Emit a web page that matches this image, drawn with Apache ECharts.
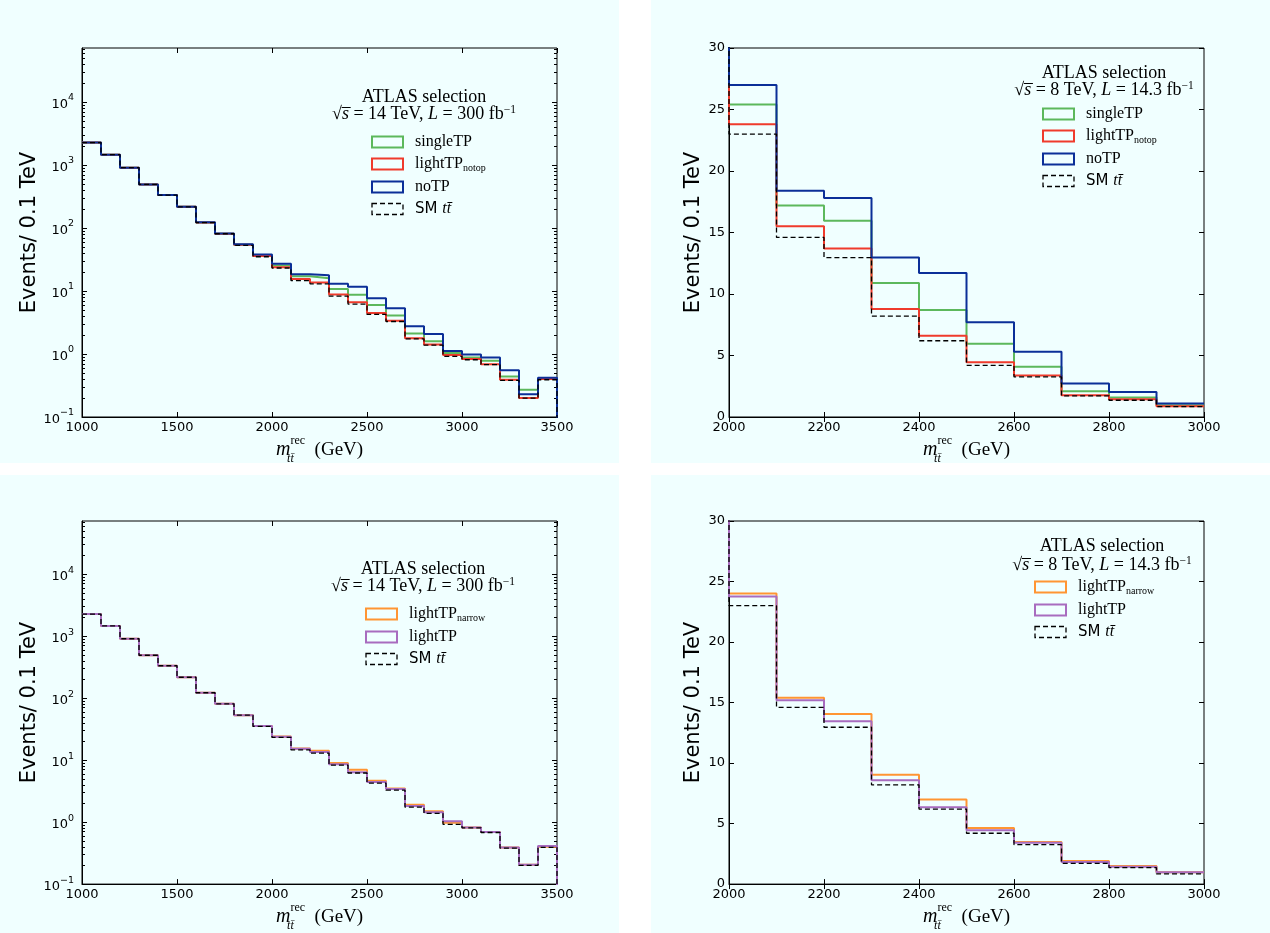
<!DOCTYPE html>
<html><head><meta charset="utf-8">
<script src="https://cdn.jsdelivr.net/npm/echarts@6/dist/echarts.min.js"></script>
<style>html,body{margin:0;padding:0;background:#fff}#c{width:1270px;height:933px}</style>
</head><body><div id="c"></div>
<script>
// ---------------- data ----------------
const BIN_LO_14 = [1000,1100,1200,1300,1400,1500,1600,1700,1800,1900,2000,2100,2200,2300,2400,2500,2600,2700,2800,2900,3000,3100,3200,3300,3400];
const BIN_HI_14 = 3500;
const SM_14            = [2270,1460,907,492,333,217,122,81,53,35,23.2,14.6,13.0,8.3,6.2,4.25,3.28,1.74,1.38,0.92,0.81,0.68,0.38,0.20,0.39];
const SINGLETP_14      = [2270,1460,907,492,333,217,122,81,54,37,25.4,17.2,16.0,10.8,8.7,6.0,4.08,2.12,1.59,1.04,0.88,0.78,0.44,0.27,0.40];
const LIGHTTP_NOTOP_14 = [2270,1460,907,492,333,217,122,81,54,36,23.8,15.5,13.7,8.8,6.6,4.46,3.37,1.78,1.42,0.96,0.83,0.69,0.39,0.20,0.40];
const NOTP_14          = [2270,1460,907,492,333,217,123,82,55,38,27.0,18.4,17.8,13.0,11.7,7.7,5.3,2.75,2.07,1.12,0.98,0.88,0.55,0.23,0.42];
const LIGHTTP_NARROW_14= [2270,1460,907,492,333,217,122,81,53,35.5,24.0,15.4,14.1,9.0,7.0,4.64,3.47,1.9,1.49,0.98,0.82,0.69,0.39,0.205,0.40];
const LIGHTTP_14       = [2270,1460,907,492,333,217,122,81,53,35.5,23.8,15.2,13.5,8.6,6.35,4.45,3.42,1.82,1.44,1.03,0.82,0.69,0.39,0.205,0.41];

const BIN_LO_8 = [1900,2000,2100,2200,2300,2400,2500,2600,2700,2800,2900];
const BIN_HI_8 = 3000;
const SM_8             = [35,23.0,14.6,12.96,8.2,6.2,4.2,3.26,1.72,1.36,0.84];
const SINGLETP_8       = [37,25.4,17.2,15.95,10.9,8.7,5.95,4.08,2.1,1.58,0.96];
const LIGHTTP_NOTOP_8  = [36,23.8,15.5,13.7,8.78,6.6,4.46,3.37,1.77,1.44,0.87];
const NOTP_8           = [38,27.0,18.4,17.8,12.96,11.7,7.7,5.3,2.72,2.04,1.09];
const LIGHTTP_NARROW_8 = [36,24.0,15.4,14.05,9.03,7.0,4.64,3.47,1.9,1.49,0.98];
const LIGHTTP_8        = [36,23.76,15.19,13.45,8.57,6.35,4.45,3.42,1.82,1.44,0.98];

const LOG_MAJOR_TICKS = [0.1,1,10,100,1000,10000];
const LOG_MINOR_TICKS = [0.2,0.3,0.4,0.5,0.6,0.7,0.8,0.9,2,3,4,5,6,7,8,9,20,30,40,50,60,70,80,90,
  200,300,400,500,600,700,800,900,2000,3000,4000,5000,6000,7000,8000,9000,20000,30000,40000,50000,60000,70000];
const LOG_FLOOR = 0.001;

// ---------------- helpers ----------------
function stepData(lo, hi, vals, closeEnd) {
  const pts = [];
  for (let i = 0; i < vals.length; i++) {
    const x1 = (i + 1 < lo.length) ? lo[i + 1] : hi;
    pts.push([lo[i], vals[i]]);
    pts.push([x1, vals[i]]);
  }
  if (closeEnd) pts.push([hi, LOG_FLOOR]);
  return pts;
}
const COLORS = {
  singleTP: '#5cb85c', lightTP_notop: '#ef3b2c', noTP: '#0b2f98',
  lightTP_narrow: '#ff9533', lightTP: '#a86cbf', SM: '#000000'
};
const GRIDS = [
  {left: 82,  top: 48,  width: 475, height: 369},
  {left: 729, top: 48,  width: 475, height: 369},
  {left: 82,  top: 521, width: 475, height: 367},
  {left: 729, top: 521, width: 475, height: 367}
];
const TICK_FONT = {color: '#000', fontFamily: 'DejaVu Sans', fontSize: 13};
const SERIF = 'Liberation Serif';

function xMain(i, min, max, interval) {
  return {
    gridIndex: i, type: 'value', min: min, max: max, interval: interval, position: 'bottom',
    axisLine: {show: true, onZero: false, lineStyle: {color: '#000', width: 1}},
    axisTick: {show: true, inside: true, length: 5, lineStyle: {color: '#000'}},
    axisLabel: Object.assign({margin: 4, formatter: v => String(v)}, TICK_FONT),
    splitLine: {show: false},
    name: '{m|m}{t|tt\u0304}{r|rec}{g|  (GeV)}',
    nameLocation: 'middle', nameGap: 16,
    nameTextStyle: {
      color: '#000',
      rich: {
        m: {fontFamily: SERIF, fontStyle: 'italic', fontSize: 20, lineHeight: 30, color: '#000'},
        t: {fontFamily: SERIF, fontStyle: 'italic', fontSize: 12, lineHeight: 12, verticalAlign: 'bottom', width: 0.1, color: '#000'},
        r: {fontFamily: SERIF, fontSize: 12, lineHeight: 12, verticalAlign: 'top', color: '#000'},
        g: {fontFamily: SERIF, fontSize: 19, lineHeight: 30, color: '#000'}
      }
    }
  };
}
function xTop(i, min, max, interval) {
  return {
    gridIndex: i, type: 'value', min: min, max: max, interval: interval, position: 'top',
    axisLine: {show: false}, axisLabel: {show: false}, splitLine: {show: false},
    axisTick: {show: true, inside: true, length: 5, lineStyle: {color: '#000'}}
  };
}
const Y_NAME = {
  name: 'Events/ 0.1 TeV', nameLocation: 'middle', nameRotate: 90,
  nameTextStyle: {color: '#000', fontFamily: 'DejaVu Sans', fontSize: 21}
};
function yLogMain(i) {
  return Object.assign({
    gridIndex: i, type: 'log', logBase: 10, min: 0.1, max: 72000, position: 'left',
    axisLine: {show: true, onZero: false, lineStyle: {color: '#000'}},
    axisTick: {show: true, inside: true, length: 5, customValues: LOG_MAJOR_TICKS, lineStyle: {color: '#000'}},
    axisLabel: {
      margin: 8, customValues: LOG_MAJOR_TICKS,
      formatter: function (v) {
        const e = Math.round(Math.log10(v));
        return '{b|10}{e|' + (e < 0 ? '\u2212' + (-e) : e) + '}';
      },
      rich: {
        b: {fontFamily: 'DejaVu Sans', fontSize: 13, color: '#000', lineHeight: 18, verticalAlign: 'bottom'},
        e: {fontFamily: 'DejaVu Sans', fontSize: 9.5, color: '#000', lineHeight: 11, verticalAlign: 'top'}
      }
    },
    splitLine: {show: false}, nameGap: 34
  }, Y_NAME);
}
function yLogAux(i, pos, ticks, len) {
  return {
    gridIndex: i, type: 'log', logBase: 10, min: 0.1, max: 72000, position: pos,
    axisLine: {show: false}, axisLabel: {show: false}, splitLine: {show: false},
    axisTick: {show: true, inside: true, length: len, customValues: ticks, lineStyle: {color: '#000'}}
  };
}
function yLinMain(i) {
  return Object.assign({
    gridIndex: i, type: 'value', min: 0, max: 30, interval: 5, position: 'left',
    axisLine: {show: true, onZero: false, lineStyle: {color: '#000'}},
    axisTick: {show: true, inside: true, length: 5, lineStyle: {color: '#000'}},
    axisLabel: Object.assign({margin: 4}, TICK_FONT),
    splitLine: {show: false}, nameGap: 25
  }, Y_NAME);
}
function yLinRight(i) {
  return {
    gridIndex: i, type: 'value', min: 0, max: 30, interval: 5, position: 'right',
    axisLine: {show: false}, axisLabel: {show: false}, splitLine: {show: false},
    axisTick: {show: true, inside: true, length: 5, lineStyle: {color: '#000'}}
  };
}

function hist(name, grid, lo, hi, vals, isLog) {
  const isSM = name === 'SM';
  return {
    name: name, type: 'line', xAxisIndex: grid, yAxisIndex: grid,
    data: stepData(lo, hi, vals, isLog),
    showSymbol: false, symbol: 'none', clip: true, animation: false,
    color: COLORS[name],
    lineStyle: isSM ? {color: '#000', width: 1.3, type: [5, 3]} : {color: COLORS[name], width: 2},
    emphasis: {disabled: true}, z: isSM ? 5 : 3
  };
}

function legendItem(name) {
  const isSM = name === 'SM';
  return {
    name: name, icon: 'rect',
    itemStyle: {color: 'transparent', borderColor: COLORS[name], borderWidth: isSM ? 1.3 : 2, borderType: isSM ? [5, 3] : 'solid'}
  };
}
const LEGEND_RICH = {
  a: {fontFamily: SERIF, fontSize: 16, lineHeight: 18, color: '#000', verticalAlign: 'middle'},
  s: {fontFamily: SERIF, fontSize: 10, lineHeight: 10, color: '#000', verticalAlign: 'bottom'},
  b: {fontFamily: 'DejaVu Sans', fontSize: 15, lineHeight: 18, color: '#000'},
  c: {fontFamily: SERIF, fontStyle: 'italic', fontSize: 16, lineHeight: 18, color: '#000'}
};
function legendFormatter(n) {
  if (n === 'singleTP') return '{a|singleTP}';
  if (n === 'lightTP_notop') return '{a|lightTP}{s|notop}';
  if (n === 'lightTP_narrow') return '{a|lightTP}{s|narrow}';
  if (n === 'noTP') return '{a|noTP}';
  if (n === 'lightTP') return '{a|lightTP}';
  return '{b|SM }{c|tt\u0304}';
}
function makeLegend(left, top, names, gap) {
  return {
    orient: 'vertical', left: left, top: top, padding: 0, itemGap: gap,
    itemWidth: 31, itemHeight: 11, selectedMode: false,
    data: names.map(legendItem), formatter: legendFormatter,
    textStyle: {color: '#000', rich: LEGEND_RICH, padding: [0, 0, 0, 7]}
  };
}

function infoText(cx, y1, y2, energy, lumi) {
  const rich = {
    n: {fontFamily: SERIF, fontSize: 18, lineHeight: 20, fill: '#000'},
    i: {fontFamily: SERIF, fontSize: 18, fontStyle: 'italic', lineHeight: 20, fill: '#000'},
    e: {fontFamily: SERIF, fontSize: 11.5, lineHeight: 11, verticalAlign: 'top', fill: '#000'}
  };
  return [
    {type: 'text', x: cx, y: y1, silent: true, style: {text: 'ATLAS selection', font: '18px "Liberation Serif"', fill: '#000', align: 'center', verticalAlign: 'middle'}},
    {type: 'text', x: cx, y: y2, silent: true, style: {
      text: '{n|\u221A}{i|s\u0305}{n| = ' + energy + ' TeV, }{i|L}{n| = ' + lumi + ' fb}{e|\u22121}',
      rich: rich, align: 'center', verticalAlign: 'middle', fill: '#000'}}
  ];
}

const PANEL_BG = '#f0ffff';
const option = {
  backgroundColor: '#ffffff',
  animation: false,
  graphic: [
    {type: 'rect', shape: {x: 0, y: 0, width: 619, height: 463}, style: {fill: PANEL_BG}, z: -10, silent: true},
    {type: 'rect', shape: {x: 651, y: 0, width: 619, height: 463}, style: {fill: PANEL_BG}, z: -10, silent: true},
    {type: 'rect', shape: {x: 0, y: 475, width: 619, height: 458}, style: {fill: PANEL_BG}, z: -10, silent: true},
    {type: 'rect', shape: {x: 651, y: 475, width: 619, height: 458}, style: {fill: PANEL_BG}, z: -10, silent: true}
  ].concat(
    infoText(424, 97, 114, '14', '300'),
    infoText(1104, 73, 90, '8', '14.3'),
    infoText(423, 569, 586, '14', '300'),
    infoText(1102, 546, 565, '8', '14.3')
  ),
  grid: GRIDS.map(g => Object.assign({show: true, borderColor: '#000', borderWidth: 1, backgroundColor: 'transparent', containLabel: false}, g)),
  xAxis: [
    xMain(0, 1000, 3500, 500), xMain(1, 2000, 3000, 200), xMain(2, 1000, 3500, 500), xMain(3, 2000, 3000, 200),
    xTop(0, 1000, 3500, 500), xTop(1, 2000, 3000, 200), xTop(2, 1000, 3500, 500), xTop(3, 2000, 3000, 200)
  ],
  yAxis: [
    yLogMain(0), yLinMain(1), yLogMain(2), yLinMain(3),
    yLogAux(0, 'right', LOG_MAJOR_TICKS, 5), yLinRight(1), yLogAux(2, 'right', LOG_MAJOR_TICKS, 5), yLinRight(3),
    yLogAux(0, 'left', LOG_MINOR_TICKS, 3), yLogAux(2, 'left', LOG_MINOR_TICKS, 3),
    yLogAux(0, 'right', LOG_MINOR_TICKS, 3), yLogAux(2, 'right', LOG_MINOR_TICKS, 3)
  ],
  legend: [
    makeLegend(371, 134, ['singleTP', 'lightTP_notop', 'noTP', 'SM'], 6),
    makeLegend(1042, 106, ['singleTP', 'lightTP_notop', 'noTP', 'SM'], 6),
    makeLegend(365, 606, ['lightTP_narrow', 'lightTP', 'SM'], 6),
    makeLegend(1034, 579, ['lightTP_narrow', 'lightTP', 'SM'], 6)
  ],
  series: [
    hist('singleTP', 0, BIN_LO_14, BIN_HI_14, SINGLETP_14, true),
    hist('lightTP_notop', 0, BIN_LO_14, BIN_HI_14, LIGHTTP_NOTOP_14, true),
    hist('noTP', 0, BIN_LO_14, BIN_HI_14, NOTP_14, true),
    hist('SM', 0, BIN_LO_14, BIN_HI_14, SM_14, true),

    hist('singleTP', 1, BIN_LO_8, BIN_HI_8, SINGLETP_8, false),
    hist('lightTP_notop', 1, BIN_LO_8, BIN_HI_8, LIGHTTP_NOTOP_8, false),
    hist('noTP', 1, BIN_LO_8, BIN_HI_8, NOTP_8, false),
    hist('SM', 1, BIN_LO_8, BIN_HI_8, SM_8, false),

    hist('lightTP_narrow', 2, BIN_LO_14, BIN_HI_14, LIGHTTP_NARROW_14, true),
    hist('lightTP', 2, BIN_LO_14, BIN_HI_14, LIGHTTP_14, true),
    hist('SM', 2, BIN_LO_14, BIN_HI_14, SM_14, true),

    hist('lightTP_narrow', 3, BIN_LO_8, BIN_HI_8, LIGHTTP_NARROW_8, false),
    hist('lightTP', 3, BIN_LO_8, BIN_HI_8, LIGHTTP_8, false),
    hist('SM', 3, BIN_LO_8, BIN_HI_8, SM_8, false)
  ]
};
const chart = echarts.init(document.getElementById('c'), null, {renderer: 'canvas'});
chart.setOption(option);
</script></body></html>
